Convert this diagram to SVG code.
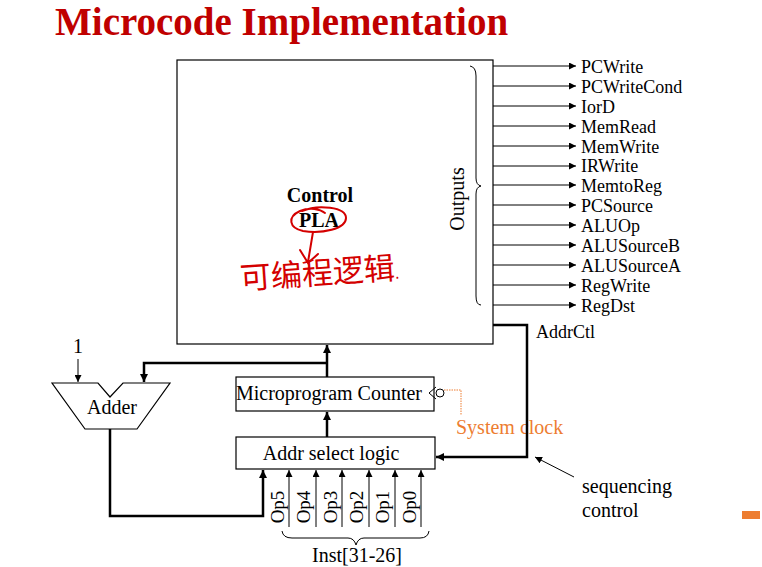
<svg xmlns="http://www.w3.org/2000/svg" width="762" height="567" viewBox="0 0 762 567" font-family="'Liberation Serif','Times New Roman',serif">
<defs>
<style>
.t{fill:#000;font-size:20px}
.o{fill:#000;font-size:18px}
.thin{stroke:#000;stroke-width:1;fill:none}
.thick{stroke:#000;stroke-width:2.5;fill:none}
.box{stroke:#000;stroke-width:1.2;fill:#fff}
.red{stroke:#d40000;stroke-width:2;fill:none;stroke-linecap:round}
</style>
<marker id="ah" viewBox="0 0 10 10" refX="10" refY="5" markerWidth="7" markerHeight="7" markerUnits="userSpaceOnUse" orient="auto"><path d="M0,0L10,5L0,10z" fill="#000"/></marker>
<marker id="ahk" viewBox="0 0 10 10" refX="10" refY="5" markerWidth="9" markerHeight="8" markerUnits="userSpaceOnUse" orient="auto"><path d="M0,0L10,5L0,10z" fill="#000"/></marker>
</defs>
<rect width="762" height="567" fill="#fff"/>
<text x="55" y="35" font-weight="bold" font-size="39" fill="#c00000">Microcode Implementation</text>

<g id="control-pla">
<rect x="177" y="60" width="316" height="284" class="box"/>
<text x="320" y="202" class="t" text-anchor="middle" font-weight="bold">Control</text>
<text x="319" y="227" class="t" text-anchor="middle" font-weight="bold">PLA</text>
<path d="M470,66 Q476,67 476,76 L476,178 Q476,185 481,186 Q476,187 476,194 L476,296 Q476,305 481,305" class="thin"/>
<text transform="translate(464,199) rotate(-90)" class="t" text-anchor="middle">Outputs</text>
</g>

<g id="annotation">
<path d="M302,211 C318,204 346,207 346,218 C346,229 322,234 303,231 C289,228 287,217 300,211 C310,207 320,209 325,213" class="red"/>
<path d="M313,232 L308,262 M300,250 L308,263 L318,254" class="red"/>
<text x="240" y="284" font-family="'Noto Sans CJK SC',sans-serif" font-size="31" fill="#d40000" transform="rotate(-4 320 275)">可编程逻辑<tspan font-size="14">.</tspan></text>
</g>

<g id="outputs">
<g class="thin" marker-end="url(#ah)">
<line x1="493" y1="66" x2="576" y2="66"/>
<line x1="493" y1="86" x2="576" y2="86"/>
<line x1="493" y1="106" x2="576" y2="106"/>
<line x1="493" y1="126" x2="576" y2="126"/>
<line x1="493" y1="146" x2="576" y2="146"/>
<line x1="493" y1="166" x2="576" y2="166"/>
<line x1="493" y1="185" x2="576" y2="185"/>
<line x1="493" y1="205" x2="576" y2="205"/>
<line x1="493" y1="225" x2="576" y2="225"/>
<line x1="493" y1="245" x2="576" y2="245"/>
<line x1="493" y1="265" x2="576" y2="265"/>
<line x1="493" y1="285" x2="576" y2="285"/>
<line x1="493" y1="305" x2="576" y2="305"/>
</g>
<g class="o">
<text x="581" y="73">PCWrite</text>
<text x="581" y="93">PCWriteCond</text>
<text x="581" y="113">IorD</text>
<text x="581" y="133">MemRead</text>
<text x="581" y="153">MemWrite</text>
<text x="581" y="172">IRWrite</text>
<text x="581" y="192">MemtoReg</text>
<text x="581" y="212">PCSource</text>
<text x="581" y="232">ALUOp</text>
<text x="581" y="252">ALUSourceB</text>
<text x="581" y="272">ALUSourceA</text>
<text x="581" y="292">RegWrite</text>
<text x="581" y="312">RegDst</text>
<text x="536" y="338">AddrCtl</text>
</g>
</g>

<g id="adder">
<path d="M52,383 L98,383 L110,397 L123,383 L170,383 L137,429 L85,429 Z" class="box"/>
<text x="112" y="414" class="t" text-anchor="middle">Adder</text>
<text x="78" y="353" class="t" text-anchor="middle">1</text>
</g>

<g id="micro-counter">
<rect x="236" y="377" width="198" height="34" class="box"/>
<text x="329" y="400" class="t" text-anchor="middle">Microprogram Counter</text>
<path d="M436,387 L429,393 L436,399" class="thin"/>
<circle cx="440" cy="393" r="4" class="thin"/>
</g>

<g id="system-clock">
<path d="M444,390 L461,390 L461,415" fill="none" stroke="#ed7d31" stroke-width="1" stroke-dasharray="1.5,1"/>
<text x="456" y="434" font-size="20" fill="#ed7d31">System clock</text>
</g>

<g id="addr-select">
<rect x="236" y="437" width="199" height="32" class="box"/>
<text x="331" y="460" class="t" text-anchor="middle">Addr select logic</text>
</g>

<g id="ops">
<g class="t" style="font-size:19px">
<text transform="translate(284,507) rotate(-90)" text-anchor="middle">Op5</text>
<text transform="translate(310,507) rotate(-90)" text-anchor="middle">Op4</text>
<text transform="translate(337,507) rotate(-90)" text-anchor="middle">Op3</text>
<text transform="translate(363,507) rotate(-90)" text-anchor="middle">Op2</text>
<text transform="translate(389,507) rotate(-90)" text-anchor="middle">Op1</text>
<text transform="translate(416,507) rotate(-90)" text-anchor="middle">Op0</text>
</g>
<path d="M282,531 Q283,538 292,538 L348,538 Q354,538 356,545 Q358,538 364,538 L420,538 Q428,538 429,531" class="thin"/>
<text x="357" y="562" class="t" text-anchor="middle">Inst[31-26]</text>
</g>

<g id="sequencing">
<text x="582" y="493" class="t">sequencing</text>
<text x="582" y="517" class="t">control</text>
</g>

<rect x="742" y="511" width="18" height="8" fill="#ed7d31"/>

<g id="connectors">
<line x1="327" y1="377" x2="327" y2="345" class="thick" marker-end="url(#ahk)"/>
<path d="M327,363 L144,363 L144,382" class="thick" marker-end="url(#ahk)"/>
<line x1="78" y1="359" x2="78" y2="382" class="thin" marker-end="url(#ah)"/>
<line x1="327" y1="437" x2="327" y2="412" class="thick" marker-end="url(#ahk)"/>
<path d="M110,429 L110,516 L263,516 L263,470" class="thick" marker-end="url(#ahk)"/>
<path d="M493,325 L527,325 L527,457 L436,457" class="thick" stroke-width="2" marker-end="url(#ahk)"/>
<g class="thin" marker-end="url(#ah)">
<line x1="289" y1="527" x2="289" y2="470"/>
<line x1="316" y1="527" x2="316" y2="470"/>
<line x1="342" y1="527" x2="342" y2="470"/>
<line x1="369" y1="527" x2="369" y2="470"/>
<line x1="395" y1="527" x2="395" y2="470"/>
<line x1="421" y1="527" x2="421" y2="470"/>
</g>
<line x1="574" y1="477" x2="535" y2="457" class="thin" marker-end="url(#ah)"/>
</g>
</svg>
